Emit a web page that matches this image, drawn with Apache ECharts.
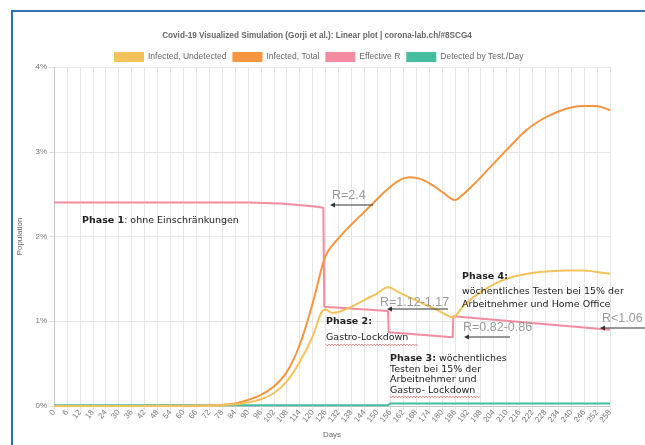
<!DOCTYPE html>
<html>
<head>
<meta charset="utf-8">
<title>Covid-19 Visualized Simulation</title>
<script src="https://cdn.jsdelivr.net/npm/echarts@6/dist/echarts.min.js"></script>
<style>
  html, body { margin: 0; padding: 0; background: #fff; }
  #main { width: 645px; height: 445px; }
</style>
</head>
<body>
<div id="main"></div>
<script>
// [day, % of population]  (Effective R is drawn on the same scale)
var infectedUndetected = [
  [0, 0], [60, 0.001], [72, 0.004], [78, 0.009], [84, 0.02], [90, 0.04], [96, 0.08],
  [102, 0.15], [108, 0.29], [114, 0.52], [120, 0.82], [124, 1.10], [126, 1.14],
  [129, 1.10], [132, 1.11], [138, 1.17], [144, 1.25], [150, 1.33], [155, 1.40],
  [160, 1.34], [166, 1.27], [172, 1.20], [178, 1.13], [185, 1.05], [190, 1.18],
  [195, 1.29], [201, 1.39], [207, 1.47], [214, 1.53], [222, 1.57], [230, 1.59],
  [238, 1.60], [246, 1.60], [252, 1.58], [258, 1.56]
];
var infectedTotal = [
  [0, 0], [60, 0.002], [72, 0.006], [78, 0.013], [84, 0.03], [90, 0.07], [96, 0.13],
  [102, 0.23], [108, 0.40], [114, 0.72], [120, 1.21], [125, 1.70], [127, 1.82],
  [131, 1.95], [136, 2.09], [142, 2.24], [148, 2.39], [154, 2.54], [160, 2.66],
  [165, 2.70], [170, 2.68], [176, 2.60], [181, 2.51], [186, 2.43], [190, 2.50],
  [195, 2.62], [201, 2.78], [207, 2.94], [213, 3.10], [219, 3.25], [225, 3.36],
  [231, 3.44], [238, 3.51], [245, 3.54], [251, 3.54], [258, 3.49]
];
var effectiveR = [
  [0, 2.40], [90, 2.40], [105, 2.39], [115, 2.37], [121, 2.355], [125, 2.34],
  [125.4, 1.17], [155, 1.12], [155.3, 0.87], [185, 0.81], [185.3, 1.06], [258, 0.90]
];
var detectedPerDay = [
  [0, 0.01], [155, 0.01], [156, 0.03], [258, 0.03]
];
var seriesNames = ['Infected, Undetected', 'Infected, Total', 'Effective R', 'Detected by Test./Day'];
var seriesColors = ['#f4c25a', '#f5953f', '#f48ba0', '#46bd9e'];

var chart = echarts.init(document.getElementById('main'));

var phaseFont = 'DejaVu Sans';
var rFont = 'Liberation Sans';

function txt(x, y, text, extra) {
  var st = { text: text, fontFamily: phaseFont, fontSize: 9.5, fill: '#222', verticalAlign: 'middle', align: 'left',
    rich: { b: { fontFamily: phaseFont, fontSize: 9.5, fontWeight: 'bold', fill: '#222' } } };
  for (var k in extra) st[k] = extra[k];
  return { type: 'text', x: x, y: y, z: 100, style: st };
}
function rText(x, y, text) {
  return { type: 'text', x: x, y: y, z: 100,
    style: { text: text, fontFamily: rFont, fontSize: 12.5, fill: '#9a9a9a', verticalAlign: 'middle', align: 'left' } };
}
function arrow(x1, x2, y) {
  return [
    { type: 'line', z: 100, shape: { x1: x1 + 3, y1: y, x2: x2, y2: y }, style: { stroke: '#333', lineWidth: 1.2 } },
    { type: 'polygon', z: 100, shape: { points: [[x1, y], [x1 + 5, y - 2.5], [x1 + 5, y + 2.5]] }, style: { fill: '#333' } }
  ];
}
function squiggle(x1, x2, y) {
  var pts = [], up = true;
  for (var x = x1; x <= x2; x += 1.5) { pts.push([x, up ? y - 0.8 : y + 0.8]); up = !up; }
  return { type: 'polyline', z: 100, shape: { points: pts }, style: { stroke: '#e05a5a', lineWidth: 0.8, fill: null } };
}

var graphics = [
  { type: 'rect', z: 100, shape: { x: 12, y: 11, width: 700, height: 500 }, style: { fill: null, stroke: '#2f6fb3', lineWidth: 2 } },
  txt(82, 221, '{b|Phase 1}: ohne Einschränkungen'),
  txt(326, 322, '{b|Phase 2:}'),
  txt(326, 338, 'Gastro-Lockdown'),
  squiggle(326, 418, 345),
  txt(390, 359, '{b|Phase 3:} wöchentliches'),
  txt(390, 369.5, 'Testen bei 15% der'),
  txt(390, 380, 'Arbeitnehmer und'),
  txt(390, 391, 'Gastro- Lockdown'),
  squiggle(390, 480, 397),
  txt(462, 277, '{b|Phase 4:}'),
  txt(462, 292, 'wöchentliches Testen bei 15% der'),
  txt(462, 305, 'Arbeitnehmer und Home Office'),
  rText(332, 196, 'R=2.4'),
  rText(380, 303, 'R=1.12-1.17'),
  rText(463, 328, 'R=0.82-0.86'),
  rText(602, 319, 'R<1.06')
].concat(arrow(330, 373, 205), arrow(387, 448, 309), arrow(464, 510, 337), arrow(600, 646, 328));

function lineSeries(i, data, smooth) {
  return {
    name: seriesNames[i],
    type: 'line',
    data: data,
    smooth: smooth,
    showSymbol: false,
    color: seriesColors[i],
    lineStyle: { width: 2, color: seriesColors[i] },
    z: 10 - i
  };
}

var option = {
  backgroundColor: '#fff',
  animation: false,
  title: {
    text: 'Covid-19 Visualized Simulation (Gorji et al.): Linear plot | corona-lab.ch/#8SCG4',
    left: 312, top: 27, textAlign: 'center',
    textStyle: { fontFamily: 'Liberation Sans', fontSize: 8.2, fontWeight: 'bold', color: '#666' }
  },
  legend: {
    data: seriesNames,
    left: 109, top: 47,
    icon: 'rect', itemWidth: 30, itemHeight: 10, itemGap: 6,
    textStyle: { fontFamily: 'Liberation Sans', fontSize: 8.5, color: '#666', padding: [0, 0, 0, -1] }
  },
  grid: { left: 54, right: 35, top: 67, bottom: 39 },
  xAxis: {
    type: 'value', min: 0, max: 258, interval: 6,
    name: 'Days', nameLocation: 'middle', nameGap: 24,
    nameTextStyle: { fontFamily: 'Liberation Sans', fontSize: 8, color: '#666' },
    axisLine: { lineStyle: { color: '#c8c8c8' } },
    axisTick: { show: true, length: 4, lineStyle: { color: '#e0e0e0' } },
    axisLabel: { rotate: 50, fontFamily: 'Liberation Sans', fontSize: 8, color: '#777', margin: 5 },
    splitLine: { show: true, lineStyle: { color: '#e6e6e6', width: 1 } }
  },
  yAxis: {
    type: 'value', min: 0, max: 4, interval: 1,
    name: 'Population', nameLocation: 'middle', nameGap: 30, nameRotate: 90,
    nameTextStyle: { fontFamily: 'Liberation Sans', fontSize: 8, color: '#666' },
    axisLine: { show: true, lineStyle: { color: '#c8c8c8' } },
    axisTick: { show: true, length: 5, lineStyle: { color: '#e0e0e0' } },
    axisLabel: { formatter: '{value}%', fontFamily: 'Liberation Sans', fontSize: 8, color: '#777', margin: 7 },
    splitLine: { show: true, lineStyle: { color: '#e6e6e6', width: 1 } }
  },
  series: [
    lineSeries(0, infectedUndetected, 0.35),
    lineSeries(1, infectedTotal, 0.35),
    lineSeries(2, effectiveR, false),
    lineSeries(3, detectedPerDay, false)
  ],
  graphic: graphics
};

chart.setOption(option);
</script>
</body>
</html>
